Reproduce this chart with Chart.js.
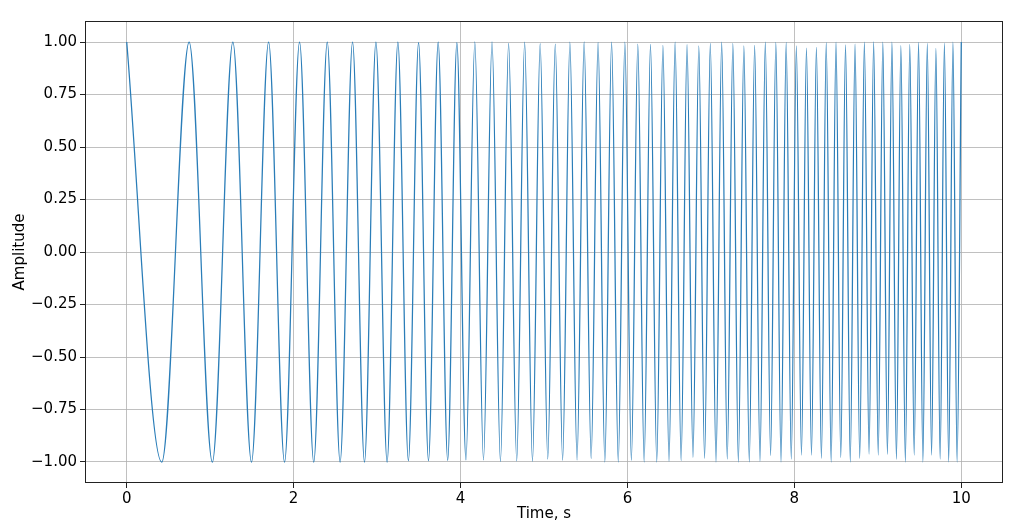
<!DOCTYPE html>
<html>
<head>
<meta charset="utf-8">
<script src="https://cdn.jsdelivr.net/npm/chart.js@4/dist/chart.umd.min.js"></script>
<style>
  html, body { margin: 0; padding: 0; background: #fff; }
  canvas { display: block; }
</style>
</head>
<body>
<canvas id="c" width="1024" height="526"></canvas>
<script>
// Extrema (peaks / troughs) of the swept signal
const extremaTimes = [
  0.000, 0.420, 0.748, 1.026, 1.272, 1.495, 1.700, 1.891, 2.071, 2.241,
  2.403, 2.557, 2.706, 2.849, 2.986, 3.120, 3.249, 3.375, 3.497, 3.616,
  3.732, 3.846, 3.956, 4.065, 4.171, 4.275, 4.377, 4.478, 4.576, 4.673,
  4.768, 4.862, 4.954, 5.045, 5.135, 5.223, 5.310, 5.396, 5.481, 5.565,
  5.648, 5.729, 5.810, 5.890, 5.969, 6.047, 6.124, 6.200, 6.276, 6.351,
  6.425, 6.498, 6.571, 6.643, 6.714, 6.785, 6.855, 6.924, 6.993, 7.061,
  7.129, 7.196, 7.263, 7.329, 7.395, 7.460, 7.524, 7.588, 7.652, 7.715,
  7.778, 7.840, 7.902, 7.963, 8.024, 8.085, 8.145, 8.205, 8.264, 8.324,
  8.382, 8.441, 8.499, 8.556, 8.613, 8.670, 8.727, 8.783, 8.839, 8.895,
  8.950, 9.005, 9.060, 9.115, 9.169, 9.223, 9.276, 9.330, 9.383, 9.436,
  9.488, 9.540, 9.593, 9.644, 9.696, 9.747, 9.798, 9.849, 9.900, 9.950,
  10.000
];
const extremaValues = [
  1, -1, 1, -1, 1, -1, 1, -1, 1, -1,
  1, -1, 1, -1, 1, -1, 1, -0.994, 0.997, -0.994,
  1, -0.992, 0.997, -0.990, 1, -0.990, 1, -0.998, 0.994, -0.995,
  1, -0.997, 0.992, -0.986, 0.990, -0.992, 1, -0.990, 1, -0.984,
  0.998, -1, 1, -1, 1, -0.992, 0.990, -1, 0.989, -1,
  0.984, -0.997, 1, -0.994, 0.987, -0.978, 0.981, -0.983, 0.994, -1,
  1, -0.986, 0.994, -1, 0.981, -1, 0.984, -0.997, 1, -0.970,
  0.998, -1, 0.998, -0.986, 0.981, -0.967, 0.971, -0.967, 0.975, -0.983,
  0.997, -1, 1, -0.979, 0.986, -1, 0.990, -0.983, 1, -0.962,
  1, -0.967, 1, -0.964, 1, -0.987, 0.983, -1, 0.989, -0.967,
  0.998, -1, 0.994, -0.967, 0.970, -0.986, 0.995, -1, 1, -1,
  1
];
const xTicks = [0, 2, 4, 6, 8, 10];
const yTicks = [-1.00, -0.75, -0.50, -0.25, 0.00, 0.25, 0.50, 0.75, 1.00];
const xLabel = 'Time, s';
const yLabel = 'Amplitude';

const points = extremaTimes.map((t, i) => ({ x: t, y: extremaValues[i] }));
const FONT = 'DejaVu Sans';

const framePlugin = {
  id: 'frame',
  afterDraw(chart) {
    const { ctx, chartArea: a } = chart;
    ctx.save();
    ctx.strokeStyle = '#222';
    ctx.lineWidth = 1;
    ctx.strokeRect(Math.round(a.left) + 0.5, Math.round(a.top) + 0.5,
                   Math.round(a.right - a.left) - 1, Math.round(a.bottom - a.top) - 1);
    ctx.restore();
  }
};

new Chart(document.getElementById('c'), {
  type: 'line',
  data: {
    datasets: [{
      data: points,
      borderColor: '#2a7db8',
      borderWidth: 1.25,
      pointRadius: 0,
      fill: false,
      cubicInterpolationMode: 'monotone'
    }]
  },
  options: {
    responsive: false,
    devicePixelRatio: 1,
    animation: false,
    events: [],
    layout: { padding: { left: 0, right: 21, top: 21, bottom: 0 } },
    plugins: { legend: { display: false }, tooltip: { enabled: false } },
    scales: {
      x: {
        type: 'linear',
        min: -0.5, max: 10.5,
        afterFit(s) { s.height = 43; },
        afterBuildTicks(s) { s.ticks = xTicks.map(v => ({ value: v })); },
        grid: { color: '#b0b0b0', lineWidth: 0.8, tickColor: '#222', tickLength: 5, tickWidth: 1 },
        border: { display: false },
        ticks: {
          color: '#000', padding: 2, maxRotation: 0, autoSkip: false,
          font: { family: FONT, size: 15 },
          callback: v => String(v)
        },
        title: {
          display: true, text: xLabel, color: '#000',
          font: { family: FONT, size: 15 },
          padding: { top: 0, bottom: 3 }
        }
      },
      y: {
        type: 'linear',
        min: -1.1, max: 1.1,
        afterFit(s) { s.width = 85; },
        afterBuildTicks(s) { s.ticks = yTicks.map(v => ({ value: v })); },
        grid: { color: '#b0b0b0', lineWidth: 0.8, tickColor: '#222', tickLength: 5, tickWidth: 1 },
        border: { display: false },
        ticks: {
          color: '#000', padding: 3, autoSkip: false,
          font: { family: FONT, size: 15 },
          callback: v => (v < 0 ? '\u2212' : '') + Math.abs(v).toFixed(2)
        },
        title: {
          display: true, text: yLabel, color: '#000',
          font: { family: FONT, size: 15 },
          padding: { top: 11, bottom: 0 }
        }
      }
    }
  },
  plugins: [framePlugin]
});
</script>
</body>
</html>
